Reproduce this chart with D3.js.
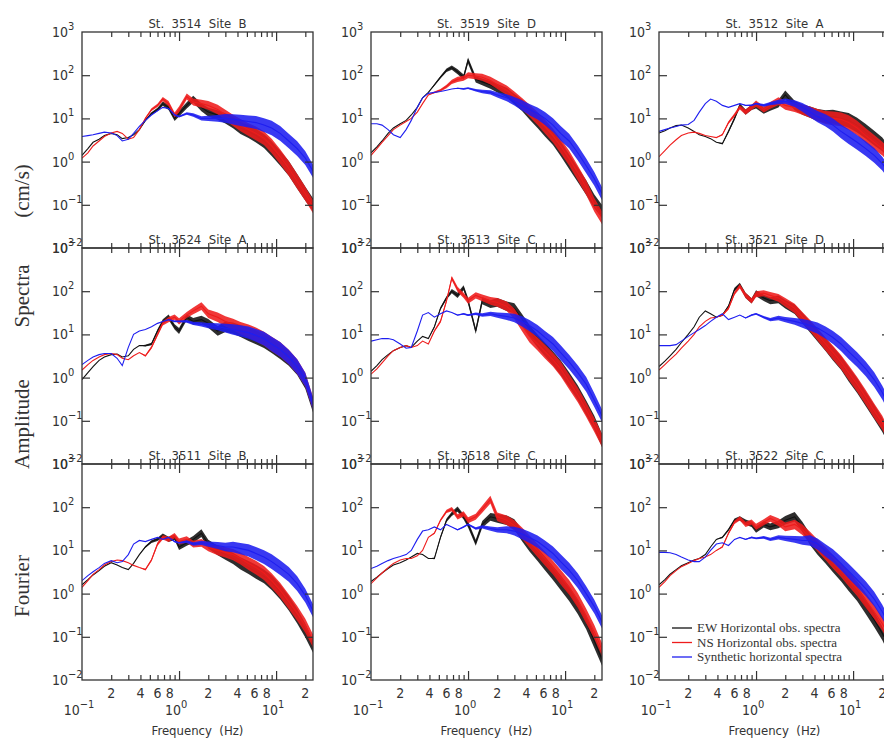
<!DOCTYPE html>
<html>
<head>
<meta charset="utf-8">
<script src="https://cdnjs.cloudflare.com/ajax/libs/d3/7.8.5/d3.min.js"></script>
<style>
  body { margin: 0; background: #fff; }
  svg { display: block; }
  .lab { font-family: "Liberation Sans Narrow", "DejaVu Sans Condensed", "Liberation Sans", sans-serif; fill: #333; white-space: pre; }
  .ser { font-family: "Liberation Serif", "DejaVu Serif", serif; fill: #333; white-space: pre; }
</style>
</head>
<body>
<script>
// frequency grid (Hz) shared by every spectrum
const freqs = [0.1, 0.115, 0.13, 0.15, 0.17, 0.2, 0.23, 0.26, 0.3, 0.34,
               0.39, 0.45, 0.52, 0.6, 0.68, 0.78, 0.9, 1.0, 1.2, 1.4,
               1.7, 2.0, 2.5, 3.0, 3.6, 4.3, 5.2, 6.2, 7.5, 9,
               11, 13.5, 16.5, 20, 24];

// scatter of the noisy traces, half width in decades
const ewSpread  = [0,0,0,0,0,0,0,0,0,0, 0,0.02,0.03,0.04,0.05,0.06,0.06,0.07,0.07,0.08, 0.09,0.1,0.11,0.12,0.13,0.14,0.15,0.16,0.16,0.17, 0.17,0.17,0.17,0.16,0.15];
const nsSpread  = [0,0,0,0,0,0,0,0,0,0, 0,0.02,0.03,0.04,0.05,0.06,0.06,0.07,0.07,0.08, 0.09,0.1,0.11,0.12,0.13,0.14,0.15,0.16,0.16,0.17, 0.17,0.17,0.17,0.16,0.15];
const synSpread = [0,0,0,0,0,0,0,0,0,0, 0,0,0,0,0,0.01,0.02,0.02,0.03,0.04, 0.05,0.06,0.08,0.1,0.12,0.13,0.14,0.15,0.16,0.17, 0.17,0.17,0.17,0.16,0.15];

// spectra (cm/s), one array per station and component
const ew3514  = [1.4,2.0,2.8,3.3,4.0,4.5,4.2,3.4,3.6,4.2, 5.5,9,13,16,22,18,10,13,20,28, 18,14,12,10,8,6,5,4,3,2, 1.2,0.7,0.35,0.18,0.1];
const ns3514  = [1.2,1.6,2.3,3.0,3.8,4.6,5.0,4.5,3.3,3.6, 5.5,10,16,20,28,22,12,16,32,24, 22,20,16,12,9,7,5.5,4.5,3.5,2.3, 1.3,0.7,0.35,0.18,0.09];
const syn3514 = [3.8,4.0,4.2,4.5,4.8,4.6,4.0,3.0,3.3,4.5, 6.5,9,12,15,18,17,12,11,13,12, 10,10,10,10,9.5,9,8.5,8,7,6, 4.5,3,2,1.2,0.6];

const ew3519  = [1.6,2.2,3.0,4.5,6,7.5,9,12,18,30, 40,60,90,130,150,120,90,220,80,70, 60,50,40,28,20,13,8.5,5.5,3.5,2, 1.0,0.5,0.25,0.12,0.07];
const ns3519  = [1.4,2.0,2.8,4.0,5.5,7,8.5,10,14,22, 35,40,45,55,70,80,85,100,95,90, 75,60,45,32,22,15,10,6.5,4,2.3, 1.2,0.55,0.25,0.1,0.05];
const syn3519 = [7.5,7.5,7.0,5.5,4.2,3.6,5.5,9,18,30, 38,40,42,45,48,50,48,50,45,42, 40,35,30,25,20,16,13,10,7,4.5, 3,1.6,0.8,0.4,0.18];

const ew3512  = [4.6,5.2,6.0,6.8,7.0,6.0,5.0,4.2,3.8,3.4, 2.8,2.6,5,10,20,14,18,20,15,18, 22,35,20,16,14,12,11,11,10,9, 7,5,3.5,2.5,1.5];
const ns3512  = [1.3,1.8,2.4,3.2,4.0,4.6,4.8,4.5,4.0,3.8, 3.6,4.2,8,12,18,14,18,22,16,20, 25,20,18,16,14,12,10.5,10,9.5,8, 6,4,2.8,2.0,1.3];
const syn3512 = [5.0,5.5,6.0,6.5,7.0,7.2,9,14,22,28, 25,20,18,20,22,20,20,22,20,22, 24,25,22,18,14,11,9,7,5,3.8, 2.8,2.0,1.4,0.9,0.5];

const ew3524  = [0.9,1.3,1.8,2.5,3.0,3.4,3.5,3.0,3.2,4.5, 5.5,5.5,6,12,20,25,15,12,25,20, 22,18,12,15,14,12,10,8.5,7,5.5, 4,2.8,1.7,0.8,0.22];
const ns3524  = [1.5,2.0,2.5,3.0,3.4,3.6,3.4,2.8,2.6,3.2, 3.8,3.2,5,10,18,22,25,20,28,35, 45,30,25,20,17,14,12,10,8,6, 4.5,3,1.8,0.9,0.25];
const syn3524 = [2.0,2.5,3.0,3.4,3.6,3.6,2.8,1.9,5,10, 12,13,15,18,20,22,20,20,20,18, 17,16,15,14,13,12,11,9.5,8,6, 4.5,3,1.8,0.9,0.25];

const ew3513  = [1.4,1.9,2.6,3.4,4.2,5.0,5.5,5.0,7,9, 8,15,40,70,100,80,120,60,12,60, 50,55,45,40,22,12,7,4.5,2.8,1.7, 0.9,0.45,0.2,0.09,0.035];
const ns3513  = [1.2,1.6,2.2,3.2,4.2,5.0,5.5,5.0,5.5,7, 6,12,20,60,200,110,80,60,80,70, 60,55,45,30,16,9,6,4,2.6,1.6, 0.8,0.4,0.18,0.08,0.035];
const syn3513 = [7,7.5,8,8,7.5,6,4.8,5,12,28, 32,25,30,35,32,28,30,28,30,28, 30,28,26,24,20,16,12,8.5,6,3.8, 2.3,1.3,0.7,0.3,0.13];

const ew3521  = [1.8,2.4,3.2,4.5,6.5,10,15,25,35,30, 25,28,45,110,140,80,60,90,70,60, 65,50,38,24,15,9.5,5.8,3.6,2.2,1.2, 0.65,0.32,0.16,0.08,0.035];
const ns3521  = [1.5,2.0,2.6,3.5,4.8,7,10,15,20,24, 25,28,40,90,130,80,60,85,90,80, 70,55,40,25,16,10,6,3.8,2.3,1.3, 0.7,0.35,0.17,0.09,0.04];
const syn3521 = [5.5,5.5,5.5,5.8,7,9,11,13,16,20, 25,30,22,25,28,24,28,30,25,22, 24,22,20,18,16,14,11,8.5,6,4, 2.6,1.6,0.9,0.45,0.2];

const ew3511  = [1.6,2.1,2.7,3.4,4.3,5.2,4.6,4.0,3.6,5, 8,12,16,18,22,18,20,12,15,18, 25,14,10,8,6.5,5,4,3.2,2.5,1.8, 1.1,0.6,0.3,0.14,0.06];
const ns3511  = [1.4,2.0,2.8,3.6,4.6,5.5,6.0,5.8,5.2,4.5, 4.0,3.6,6,14,20,18,22,16,18,14, 15,12,10,9,8,6.5,5,4,3,2, 1.2,0.65,0.35,0.18,0.08];
const syn3511 = [2.0,2.6,3.2,4.0,5.0,5.8,5.2,5.5,8,14, 17,16,18,20,18,20,16,15,16,14, 15,14,13,12,12,11,10,8.5,7,5.5, 4,2.8,1.7,0.9,0.4];

const ew3518  = [1.9,2.4,3.0,3.8,4.6,5.2,6.0,7.0,8.5,8, 6.5,6.5,20,50,70,90,60,40,15,40, 60,55,50,40,22,13,8,5,3,1.8, 1.0,0.5,0.22,0.08,0.03];
const ns3518  = [1.7,2.3,3.0,4.0,5.0,6.0,6.5,6.5,7.5,10, 20,25,50,80,90,60,70,50,60,90, 150,60,50,38,25,16,10,6.5,4,2.4, 1.4,0.7,0.3,0.13,0.05];
const syn3518 = [3.8,4.3,5.0,5.8,6.5,7.2,8,10,18,28, 30,35,30,40,35,30,35,40,32,35, 32,30,30,28,24,20,16,12,8.5,5.5, 3.5,2.0,1.0,0.5,0.22];

const ew3522  = [1.6,2.1,2.8,3.6,4.4,5.2,6,6.5,8,12, 18,20,30,50,55,45,40,30,40,35, 40,50,60,35,18,11,7,4.5,2.8,1.7, 1.0,0.5,0.25,0.12,0.05];
const ns3522  = [1.4,1.9,2.6,3.4,4.2,5.0,5.8,6.5,7,8, 10,12,25,45,55,40,45,35,45,55, 45,35,40,30,20,13,8.5,5.5,3.5,2.2, 1.3,0.7,0.38,0.2,0.1];
const syn3522 = [9,9,8.8,8,7,6,5.5,5.5,7,10, 14,15,13,18,20,18,20,19,20,18, 20,19,18,17,17,14,10,7.5,5,3.3, 2.1,1.3,0.75,0.38,0.18];

const titles = ["St.  3514  Site  B", "St.  3519  Site  D", "St.  3512  Site  A",
                "St.  3524  Site  A", "St.  3513  Site  C", "St.  3521  Site  D",
                "St.  3511  Site  B", "St.  3518  Site  C", "St.  3522  Site  C"];
const legendNames = ["EW Horizontal obs. spectra", "NS Horizontal obs. spectra", "Synthetic horizontal spectra"];
const yDecades = [1000, 100, 10, 1, 0.1, 0.01];
const xMinor = [0.2, 0.3, 0.4, 0.5, 0.6, 0.7, 0.8, 0.9, 2, 3, 4, 5, 6, 7, 8, 9, 20];
const xMinorLabels = [0.2, 0.4, 0.6, 0.8, 2, 4, 6, 8, 20];
const xMajor = [0.1, 1, 10];

const panels = [
  [ew3514, ns3514, syn3514], [ew3519, ns3519, syn3519], [ew3512, ns3512, syn3512],
  [ew3524, ns3524, syn3524], [ew3513, ns3513, syn3513], [ew3521, ns3521, syn3521],
  [ew3511, ns3511, syn3511], [ew3518, ns3518, syn3518], [ew3522, ns3522, syn3522]
];
const spreads = [ewSpread, nsSpread, synSpread];
const colors = ["#111111", "#ee1c1c", "#1e1ef0"];

const W = 884, H = 745;
const cols = [82, 371, 659], rows = [32, 248, 464];
const pw = 231, ph = 216;
const ink = "#333";

const x = d3.scaleLog().domain([0.1, 24]).range([0, pw]);
const y = d3.scaleLog().domain([0.01, 1000]).range([ph, 0]);

const svg = d3.select("body").append("svg").attr("width", W).attr("height", H);

function pow10(sel, px, py, v, anchor) {
  const e = Math.round(Math.log10(v));
  const t = sel.append("text").attr("class", "lab").attr("x", px).attr("y", py)
    .attr("font-size", 14).attr("text-anchor", anchor);
  t.append("tspan").text("10");
  t.append("tspan").attr("dy", -7).attr("font-size", 11).text(e < 0 ? "\u2212" + (-e) : String(e));
}

const band = d3.area().x(d => x(d.f)).y0(d => y(d.v / Math.pow(10, d.s))).y1(d => y(d.v * Math.pow(10, d.s)));
const line = d3.line().x(d => x(d.f)).y(d => y(d.v));

panels.forEach((series, i) => {
  const c = i % 3, r = Math.floor(i / 3);
  const g = svg.append("g").attr("transform", "translate(" + cols[c] + "," + rows[r] + ")");

  svg.append("clipPath").attr("id", "clip" + i)
    .append("rect").attr("width", pw).attr("height", ph);
  const plot = g.append("g").attr("clip-path", "url(#clip" + i + ")");

  series.forEach((vals, k) => {
    const pts = freqs.map((f, j) => ({ f: f, v: vals[j], s: spreads[k][j] }));
    plot.append("path").datum(pts).attr("d", band)
      .attr("fill", colors[k]).attr("fill-opacity", 0.88);
    plot.append("path").datum(pts).attr("d", line)
      .attr("fill", "none").attr("stroke", colors[k]).attr("stroke-width", 1.1);
  });

  // frame
  g.append("rect").attr("width", pw).attr("height", ph)
    .attr("fill", "none").attr("stroke", ink).attr("stroke-width", 1.3);

  // inward ticks
  const axes = [
    [d3.axisBottom(x).tickValues(xMinor).tickSize(5), 0, 0],
    [d3.axisBottom(x).tickValues([1, 10]).tickSize(9), 0, 0],
    [d3.axisTop(x).tickValues(xMinor).tickSize(5), 0, ph],
    [d3.axisTop(x).tickValues([1, 10]).tickSize(9), 0, ph],
    [d3.axisRight(y).tickValues([100, 10, 1, 0.1]).tickSize(8), 0, 0],
    [d3.axisLeft(y).tickValues([100, 10, 1, 0.1]).tickSize(8), pw, 0]
  ];
  axes.forEach(a => {
    g.append("g").attr("transform", "translate(" + a[1] + "," + a[2] + ")")
      .call(a[0].tickFormat(""))
      .call(s => s.select(".domain").remove())
      .call(s => s.selectAll("line").attr("stroke", ink).attr("stroke-width", 1.2));
  });

  // y labels (the 10^3 of a lower panel sits on the 10^-2 of the one above, as in the original)
  yDecades.forEach(v => pow10(svg, cols[c] - 30, rows[r] + y(v) + 5, v, "start"));

  // title
  svg.append("text").attr("class", "lab").attr("x", cols[c] + pw / 2).attr("y", rows[r] - 4)
    .attr("text-anchor", "middle").attr("font-size", 13).text(titles[i]);

  // x labels on the bottom row
  if (r === 2) {
    xMinorLabels.forEach(v => {
      svg.append("text").attr("class", "lab").attr("x", cols[c] + x(v)).attr("y", rows[r] + ph + 18)
        .attr("text-anchor", "middle").attr("font-size", 14).text(String(v).replace(/^0\./, "").replace(/0$/, ""));
    });
    xMajor.forEach(v => pow10(svg, cols[c] + x(v) - 3, rows[r] + ph + 35, v, "middle"));
    svg.append("text").attr("class", "lab").attr("x", cols[c] + pw / 2).attr("y", rows[r] + ph + 55)
      .attr("text-anchor", "middle").attr("font-size", 13).text("Frequency  (Hz)");
  }

  // legend in the last panel
  if (i === 8) {
    legendNames.forEach((n, k) => {
      const ly = 628 + k * 14.5 - rows[r];
      g.append("line").attr("x1", 13).attr("x2", 33).attr("y1", ly).attr("y2", ly)
        .attr("stroke", colors[k]).attr("stroke-width", 1.3);
      g.append("text").attr("class", "ser").attr("x", 38).attr("y", ly + 4)
        .attr("font-size", 13).text(n);
    });
  }
});

// y axis title
const words = [["Fourier", 586], ["Amplitude", 424], ["Spectra", 296], ["(cm/s)", 191]];
words.forEach(w => {
  svg.append("text").attr("class", "ser").attr("font-size", 21)
    .attr("transform", "translate(29," + w[1] + ") rotate(-90)")
    .attr("text-anchor", "middle").text(w[0]);
});
</script>
</body>
</html>
